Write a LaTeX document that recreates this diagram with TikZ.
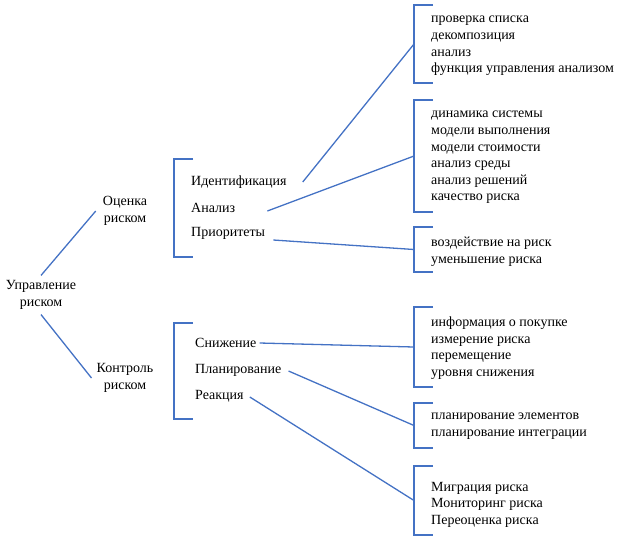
\documentclass[tikz,border=0pt]{standalone}
\usepackage{fontspec}
\setmainfont{Liberation Serif}
\usetikzlibrary{positioning,calc}

\begin{document}
\begin{tikzpicture}[x=1pt,y=-1pt,
    txt/.style={inner sep=0pt,font=\fontsize{14}{16.6}\selectfont},
    grp/.style={txt,align=left,anchor=west},
    conn/.style={draw=lineblue,line width=1.3pt},
    brk/.style={draw=lineblue,line width=1.7pt}]
    \definecolor{lineblue}{RGB}{68,114,196}
    \useasboundingbox (0,0) rectangle (620,539);

    % root and the two branches
    \node[txt,align=center] (root) at (41,295) {Управление\\риском};
    \node[txt,align=center] (ocenka) at (125,211) {Оценка\\риском};
    \node[txt,align=center] (kontrol) at (125,378) {Контроль\\риском};
    \draw[conn] ([yshift=5pt]root.north) -- ([xshift=-7pt]ocenka.west);
    \draw[conn] ([yshift=-5pt]root.south) -- ([xshift=-5pt]kontrol.west);

    % middle brackets
    \draw[brk] (193,159) -- (174,159) -- (174,257) -- (193,257);
    \draw[brk] (193,323) -- (174,323) -- (174,419) -- (193,419);

    \node[txt,anchor=west] (ident) at (191,182) {Идентификация};
    \node[txt,anchor=west] (analiz) at (191,208) {Анализ};
    \node[txt,anchor=west] (prior) at (191,233) {Приоритеты};
    \node[txt,anchor=west] (snizh) at (195,343) {Снижение};
    \node[txt,anchor=west] (plan) at (195,370) {Планирование};
    \node[txt,anchor=west] (reak) at (195,396) {Реакция};

    % right brackets
    \coordinate (b1) at (414,44);
    \coordinate (b2) at (414,156);
    \coordinate (b3) at (414,249.5);
    \coordinate (b4) at (414,347);
    \coordinate (b5) at (414,425.5);
    \coordinate (b6) at (414,500.5);
    \draw[brk] (433,5) -- (414,5) -- (414,83) -- (433,83);
    \draw[brk] (433,100) -- (414,100) -- (414,212) -- (433,212);
    \draw[brk] (433,227) -- (414,227) -- (414,272) -- (433,272);
    \draw[brk] (433,307) -- (414,307) -- (414,387) -- (433,387);
    \draw[brk] (433,403) -- (414,403) -- (414,448) -- (433,448);
    \draw[brk] (433,466) -- (414,466) -- (414,535) -- (433,535);

    \node[grp] (g1) at (431,46) {проверка списка\\декомпозиция\\анализ\\функция управления анализом};
    \node[grp] (g2) at (431,157.5) {динамика системы\\модели выполнения\\модели стоимости\\анализ среды\\анализ решений\\качество риска};
    \node[grp] (g3) at (431,252) {воздействие на риск\\уменьшение риска};
    \node[grp] (g4) at (431,348) {информация о покупке\\измерение риска\\перемещение\\уровня снижения};
    \node[grp] (g5) at (431,426) {планирование элементов\\планирование интеграции};
    \node[grp] (g6) at (431,504.5) {Миграция риска\\Мониторинг риска\\Переоценка риска};

    % connectors to the brackets
    \draw[conn] ([xshift=16pt]ident.east) -- (b1);
    \draw[conn] ([xshift=32pt,yshift=-3pt]analiz.east) -- (b2);
    \draw[conn] ([xshift=8pt,yshift=-7pt]prior.east) -- (b3);
    \draw[conn] ([xshift=3pt]snizh.east) -- (b4);
    \draw[conn] ([xshift=7pt,yshift=-1pt]plan.east) -- (b5);
    \draw[conn] ([xshift=6pt,yshift=-1pt]reak.east) -- (b6);
\end{tikzpicture}
\end{document}
